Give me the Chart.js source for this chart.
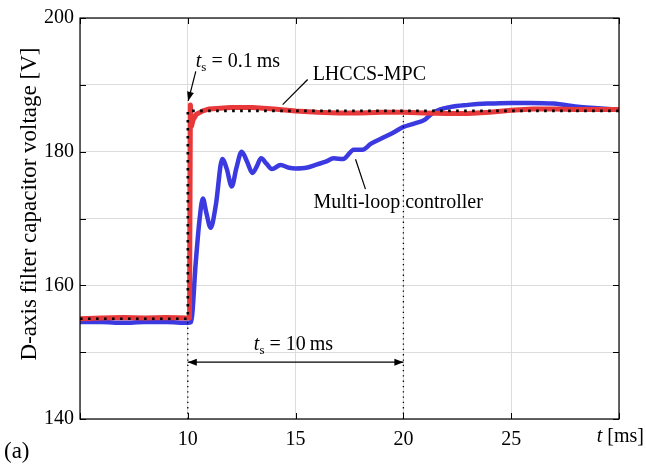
<!DOCTYPE html>
<html><head><meta charset="utf-8">
<script src="https://cdn.jsdelivr.net/npm/chart.js@4/dist/chart.umd.min.js"></script>
<style>html,body{margin:0;padding:0;background:#fff}canvas{display:block}</style>
</head><body>
<canvas id="c" width="646" height="466"></canvas>
<script>
// ---- data ----
const xMin = 5, xMax = 30, xStep = 5;
const yMin = 140, yMax = 200, yStep = 10;
const xTickLabels = {10:'10', 15:'15', 20:'20', 25:'25'};
const yTickLabels = {140:'140', 160:'160', 180:'180', 200:'200'};

const mpcT = [5, 6, 7, 8, 9, 10, 10.08, 10.12, 10.17, 10.25, 10.4, 10.7, 11, 12, 13, 14, 15, 16, 17, 18, 19, 20, 21, 22, 23, 24, 25, 26, 27, 28, 29, 30];
const mpcV = [155, 155.1, 155.2, 155.1, 155.2, 155.1, 155.1, 187, 183.8, 184.8, 185.6, 186.1, 186.4, 186.6, 186.6, 186.4, 186.1, 185.9, 185.8, 185.8, 185.9, 185.9, 185.8, 185.7, 185.7, 185.9, 186.2, 186.4, 186.4, 186.3, 186.3, 186.3];

const mlT = [5, 6, 7, 8, 9, 10, 10.15, 10.37, 10.55, 10.7, 10.85, 11.06, 11.3, 11.6, 11.8, 12.04, 12.25, 12.5, 12.75, 13.0, 13.2, 13.4, 13.65, 13.9, 14.3, 14.7, 15, 15.5, 16, 16.4, 16.76, 17.2, 17.7, 18.1, 18.5, 19, 19.5, 20, 20.5, 21, 21.4, 22.2, 23, 23.9, 25, 25.9, 26.95, 28.2, 29, 30];
const mlV = [154.5, 154.5, 154.4, 154.5, 154.5, 154.4, 154.5, 163.5, 170, 173, 171, 168.6, 172, 178.9, 177.5, 174.8, 177.5, 180.0, 178.5, 176.8, 177.8, 179.0, 178.2, 177.4, 178.0, 177.6, 177.5, 177.6, 178.1, 178.5, 179.0, 178.9, 180.3, 180.3, 181.2, 182.0, 182.8, 183.7, 184.2, 184.8, 185.9, 186.7, 187.0, 187.2, 187.3, 187.3, 187.2, 186.7, 186.5, 186.3];

const refT = [5, 10, 10, 30];
const refV = [155, 155, 186.1, 186.1];
const mark10T = [10, 10], mark10V = [140, 155];
const mark20T = [20, 20], mark20V = [140, 186.1];

const toXY = (t, v) => t.map((x, i) => ({x, y: v[i]}));

const SERIF = '"Liberation Serif", "Times New Roman", serif';
const FS = 20;

function tsText(ctx, x, y, rest, align) {
  ctx.save();
  ctx.textBaseline = 'alphabetic';
  ctx.textAlign = 'left';
  ctx.font = 'italic ' + FS + 'px ' + SERIF;
  const wt = ctx.measureText('t').width;
  ctx.font = '13px ' + SERIF;
  const ws = ctx.measureText('s').width;
  ctx.font = FS + 'px ' + SERIF;
  const wr = ctx.measureText(rest).width;
  const total = wt + ws + wr;
  let x0 = align === 'center' ? x - total / 2 : x;
  const base = y + 7;
  ctx.font = 'italic ' + FS + 'px ' + SERIF;
  ctx.fillText('t', x0, base);
  ctx.font = '13px ' + SERIF;
  ctx.fillText('s', x0 + wt, base + 4);
  ctx.font = FS + 'px ' + SERIF;
  ctx.fillText(rest, x0 + wt + ws, base);
  ctx.restore();
}

function arrowHead(ctx, x1, y1, x2, y2) {
  const a = Math.atan2(y2 - y1, x2 - x1);
  const L = 9, W = 3.5;
  ctx.beginPath();
  ctx.moveTo(x2, y2);
  ctx.lineTo(x2 - L * Math.cos(a) + W * Math.sin(a), y2 - L * Math.sin(a) - W * Math.cos(a));
  ctx.lineTo(x2 - L * Math.cos(a) - W * Math.sin(a), y2 - L * Math.sin(a) + W * Math.cos(a));
  ctx.closePath();
  ctx.fill();
}

const deco = {
  id: 'deco',
  afterDatasetsDraw(chart) {
    const ctx = chart.ctx, a = chart.chartArea;
    const xs = chart.scales.x, ys = chart.scales.y;
    const px = v => xs.getPixelForValue(v), py = v => ys.getPixelForValue(v);
    ctx.save();
    // frame
    ctx.strokeStyle = '#000'; ctx.lineWidth = 1.2;
    ctx.strokeRect(a.left, a.top, a.right - a.left, a.bottom - a.top);
    // inward ticks
    ctx.lineWidth = 1;
    ctx.beginPath();
    for (let t = xMin; t <= xMax; t += xStep) {
      const x = Math.round(px(t)) + 0.5;
      ctx.moveTo(x, a.bottom); ctx.lineTo(x, a.bottom - 6);
      ctx.moveTo(x, a.top); ctx.lineTo(x, a.top + 6);
    }
    for (let v = yMin; v <= yMax; v += yStep) {
      const y = Math.round(py(v)) + 0.5;
      ctx.moveTo(a.left, y); ctx.lineTo(a.left + 6, y);
      ctx.moveTo(a.right, y); ctx.lineTo(a.right - 6, y);
    }
    ctx.stroke();

    ctx.fillStyle = '#000'; ctx.strokeStyle = '#000';
    // t_s = 0.1 ms
    tsText(ctx, px(10.37), py(193.7), ' = 0.1\u2009ms', 'left');
    ctx.lineWidth = 1.2;
    ctx.beginPath(); ctx.moveTo(px(10.37), py(192)); ctx.lineTo(px(10.02), py(187.6)); ctx.stroke();
    arrowHead(ctx, px(10.37), py(192), px(10.02), py(187.6));
    // LHCCS-MPC
    ctx.font = FS + 'px ' + SERIF; ctx.textBaseline = 'middle'; ctx.textAlign = 'left';
    ctx.fillText('LHCCS-MPC', px(15.79), py(191.5));
    ctx.beginPath(); ctx.moveTo(px(15.56), py(190.8)); ctx.lineTo(px(14.4), py(187.05)); ctx.stroke();
    // Multi-loop controller
    ctx.fillText('Multi-loop controller', px(15.83), py(172.3));
    ctx.beginPath(); ctx.moveTo(px(17.78), py(178.86)); ctx.lineTo(px(18.24), py(174.4)); ctx.stroke();
    // t_s = 10 ms
    tsText(ctx, px(14.9), py(151.3), ' = 10\u2009ms', 'center');
    const ya = py(148.5);
    ctx.beginPath(); ctx.moveTo(px(10), ya); ctx.lineTo(px(20), ya); ctx.stroke();
    arrowHead(ctx, px(11), ya, px(10), ya);
    arrowHead(ctx, px(19), ya, px(20), ya);

    // axis labels
    ctx.textBaseline = 'middle';
    ctx.textAlign = 'right';
    ctx.font = FS + 'px ' + SERIF;
    const wr = ctx.measureText(' [ms]').width;
    ctx.fillText(' [ms]', 644, 437);
    ctx.font = 'italic ' + FS + 'px ' + SERIF;
    ctx.fillText('t', 644 - wr, 437);
    ctx.font = '23px ' + SERIF;
    ctx.textAlign = 'left';
    ctx.fillText('(a)', 4, 452);
    ctx.save();
    ctx.translate(30, 204);
    ctx.rotate(-Math.PI / 2);
    ctx.textAlign = 'center';
    ctx.font = '23px ' + SERIF;
    ctx.fillText('D-axis filter capacitor voltage [V]', 0, 0);
    ctx.restore();
    ctx.restore();
  }
};

new Chart(document.getElementById('c'), {
  type: 'line',
  data: {
    datasets: [
      {data: toXY(refT, refV), borderColor: '#000', borderWidth: 2.6, borderDash: [2.6, 5.4], pointRadius: 0, tension: 0},
      {data: toXY(mark10T, mark10V), borderColor: '#000', borderWidth: 1.3, borderDash: [1.3, 4], pointRadius: 0},
      {data: toXY(mark20T, mark20V), borderColor: '#000', borderWidth: 1.3, borderDash: [1.3, 4], pointRadius: 0},
      {data: toXY(mpcT, mpcV), borderColor: '#e8383a', borderWidth: 5, pointRadius: 0, tension: 0, borderJoinStyle: 'round', borderCapStyle: 'round'},
      {data: toXY(mlT, mlV), borderColor: '#3a3ae0', borderWidth: 4.5, pointRadius: 0, cubicInterpolationMode: 'monotone', borderJoinStyle: 'round', borderCapStyle: 'round'}
    ]
  },
  options: {
    responsive: false,
    animation: false,
    events: [],
    layout: {padding: {left: 0, right: 27, top: 16, bottom: 0}},
    plugins: {legend: {display: false}, tooltip: {enabled: false}},
    scales: {
      x: {
        type: 'linear', min: xMin, max: xMax,
        afterFit: s => { s.height = 47; },
        afterBuildTicks: s => { s.ticks = []; for (let t = xMin; t <= xMax; t += xStep) s.ticks.push({value: t}); },
        ticks: {autoSkip: false, maxRotation: 0, padding: 9, color: '#000', font: {family: SERIF, size: FS},
          callback: v => xTickLabels[v] || ''},
        grid: {color: '#dcdcdc', lineWidth: 1, drawTicks: false},
        border: {display: false}
      },
      y: {
        type: 'linear', min: yMin, max: yMax,
        afterFit: s => { s.width = 80; },
        afterBuildTicks: s => { s.ticks = []; for (let v = yMin; v <= yMax; v += yStep) s.ticks.push({value: v}); },
        ticks: {autoSkip: false, padding: 6, color: '#000', font: {family: SERIF, size: FS},
          callback: v => yTickLabels[v] || ''},
        grid: {color: '#dcdcdc', lineWidth: 1, drawTicks: false},
        border: {display: false}
      }
    }
  },
  plugins: [deco]
});
</script>
</body></html>
